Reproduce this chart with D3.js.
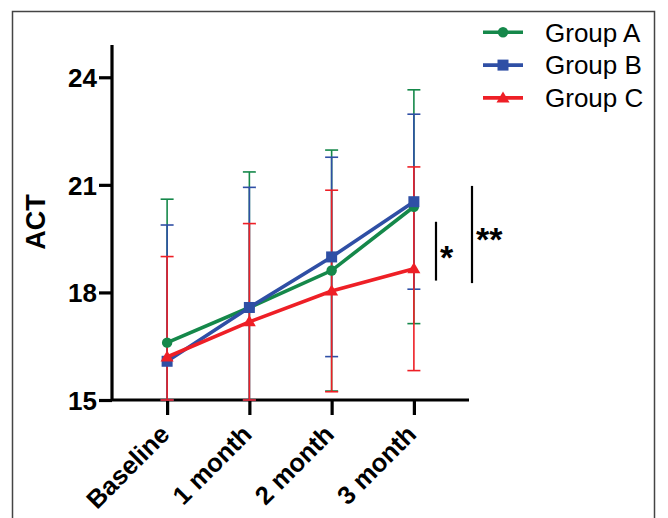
<!DOCTYPE html>
<html><head><meta charset="utf-8">
<script src="https://cdn.jsdelivr.net/npm/d3@7/dist/d3.min.js"></script>
<style>body{margin:0;background:#fff}svg{display:block}text{font-family:"Liberation Sans",Arial,sans-serif}</style>
</head><body>
<svg id="c" width="668" height="518"></svg>
<script>
const categories = ["Baseline", "1 month", "2 month", "3 month"];
const groupNames = ["Group A", "Group B", "Group C"];
const meanA = [16.6, 17.58, 18.61, 20.39];
const sdA   = [4.0, 3.78, 3.36, 3.26];
const meanB = [16.08, 17.58, 18.99, 20.53];
const sdB   = [3.8, 3.35, 2.78, 2.44];
const meanC = [16.2, 17.18, 18.04, 18.66];
const sdC   = [2.8, 2.74, 2.81, 2.84];
const yTicks = [15, 18, 21, 24];
const sigLabels = ["*", "**"];
const sigRanges = [[18.33, 19.97], [18.26, 20.97]];

const colors = ["#15884a", "#2f4fa5", "#ee1f26"];
const shapes = ["circle", "square", "triangle"];
const series = [meanA, meanB, meanC].map((m, i) => ({
  name: groupNames[i], color: colors[i], shape: shapes[i],
  pts: m.map((v, j) => ({cat: categories[j], mean: v, sd: [sdA, sdB, sdC][i][j]}))
}));

const svg = d3.select("#c");
// frame
svg.append("rect").attr("x", 12.5).attr("y", 11.5).attr("width", 642).attr("height", 520)
  .attr("fill", "none").attr("stroke", "#444").attr("stroke-width", 1.5);

const x = d3.scalePoint().domain(categories).range([112, 469]).padding(0.67);
const y = d3.scaleLinear().domain([15, 24.9]).range([400, 45]);
const yMin = 15;

// axes
const yAxis = svg.append("g").attr("transform", "translate(112,0)")
  .call(d3.axisLeft(y).tickValues(yTicks).tickSize(13).tickPadding(2).tickFormat(d3.format("d")));
const xAxis = svg.append("g").attr("transform", "translate(0,400)")
  .call(d3.axisBottom(x).tickSize(15).tickFormat(""));
[yAxis, xAxis].forEach(g => {
  g.select(".domain").attr("stroke", "#000").attr("stroke-width", 3.2);
  g.selectAll(".tick line").attr("stroke", "#000").attr("stroke-width", 3.2);
});
yAxis.select(".domain").attr("d", `M0,${y(15)}V${y(24.9)}`);
xAxis.select(".domain").attr("d", `M112,0H469`);
yAxis.selectAll(".tick text").attr("font-size", 26).attr("font-weight", "bold").attr("fill", "#000").attr("dy", "0.36em");

// x labels rotated
svg.append("g").selectAll("text").data(categories).join("text")
  .attr("transform", d => `translate(${x(d) + 4},${436}) rotate(-45)`)
  .attr("text-anchor", "end").attr("font-size", 25.5).attr("font-weight", "bold").text(d => d);

// y title
svg.append("text").attr("transform", `translate(45,${222}) rotate(-90)`)
  .attr("text-anchor", "middle").attr("font-size", 27).attr("font-weight", "bold").text("ACT");

// error bars
const capW = 6.5;
series.forEach(s => {
  const g = svg.append("g").attr("stroke", s.color).attr("stroke-width", 1.6).attr("fill", "none");
  s.pts.forEach(p => {
    const top = p.mean + p.sd, bot = Math.max(yMin, p.mean - p.sd);
    const cx = x(p.cat);
    g.append("line").attr("x1", cx).attr("x2", cx).attr("y1", y(top)).attr("y2", y(bot));
    g.append("line").attr("x1", cx - capW).attr("x2", cx + capW).attr("y1", y(top)).attr("y2", y(top));
    g.append("line").attr("x1", cx - capW).attr("x2", cx + capW).attr("y1", y(bot)).attr("y2", y(bot));
  });
});

function marker(g, shape, cx, cy, color) {
  if (shape === "circle") g.append("circle").attr("cx", cx).attr("cy", cy).attr("r", 5.2).attr("fill", color);
  else if (shape === "square") g.append("rect").attr("x", cx - 5.5).attr("y", cy - 5.5).attr("width", 11).attr("height", 11).attr("fill", color);
  else g.append("path").attr("d", `M${cx},${cy - 6.5}L${cx + 6.5},${cy + 4.5}L${cx - 6.5},${cy + 4.5}Z`).attr("fill", color);
}

const line = d3.line().x(p => x(p.cat)).y(p => y(p.mean));
series.forEach(s => {
  const g = svg.append("g");
  g.append("path").attr("d", line(s.pts)).attr("fill", "none").attr("stroke", s.color).attr("stroke-width", 3.6);
  s.pts.forEach(p => marker(g, s.shape, x(p.cat), y(p.mean), s.color));
});

// significance
const sigX = [436, 472];
sigRanges.forEach((r, i) => {
  svg.append("line").attr("x1", sigX[i]).attr("x2", sigX[i]).attr("y1", y(r[0])).attr("y2", y(r[1]))
    .attr("stroke", "#000").attr("stroke-width", 2.2);
  svg.append("text").attr("x", sigX[i] + 4).attr("y", i === 0 ? 269 : 251)
    .attr("font-size", 34).attr("font-weight", "bold").text(sigLabels[i]);
});

// legend
const lg = svg.append("g");
series.forEach((s, i) => {
  const ly = 32.3 + i * 32.8;
  lg.append("line").attr("x1", 483).attr("x2", 523).attr("y1", ly).attr("y2", ly).attr("stroke", s.color).attr("stroke-width", 3.6);
  marker(lg, s.shape, 503, ly, s.color);
  lg.append("text").attr("x", 545).attr("y", ly).attr("dy", "0.36em").attr("font-size", 26).text(s.name);
});
</script>
</body></html>
